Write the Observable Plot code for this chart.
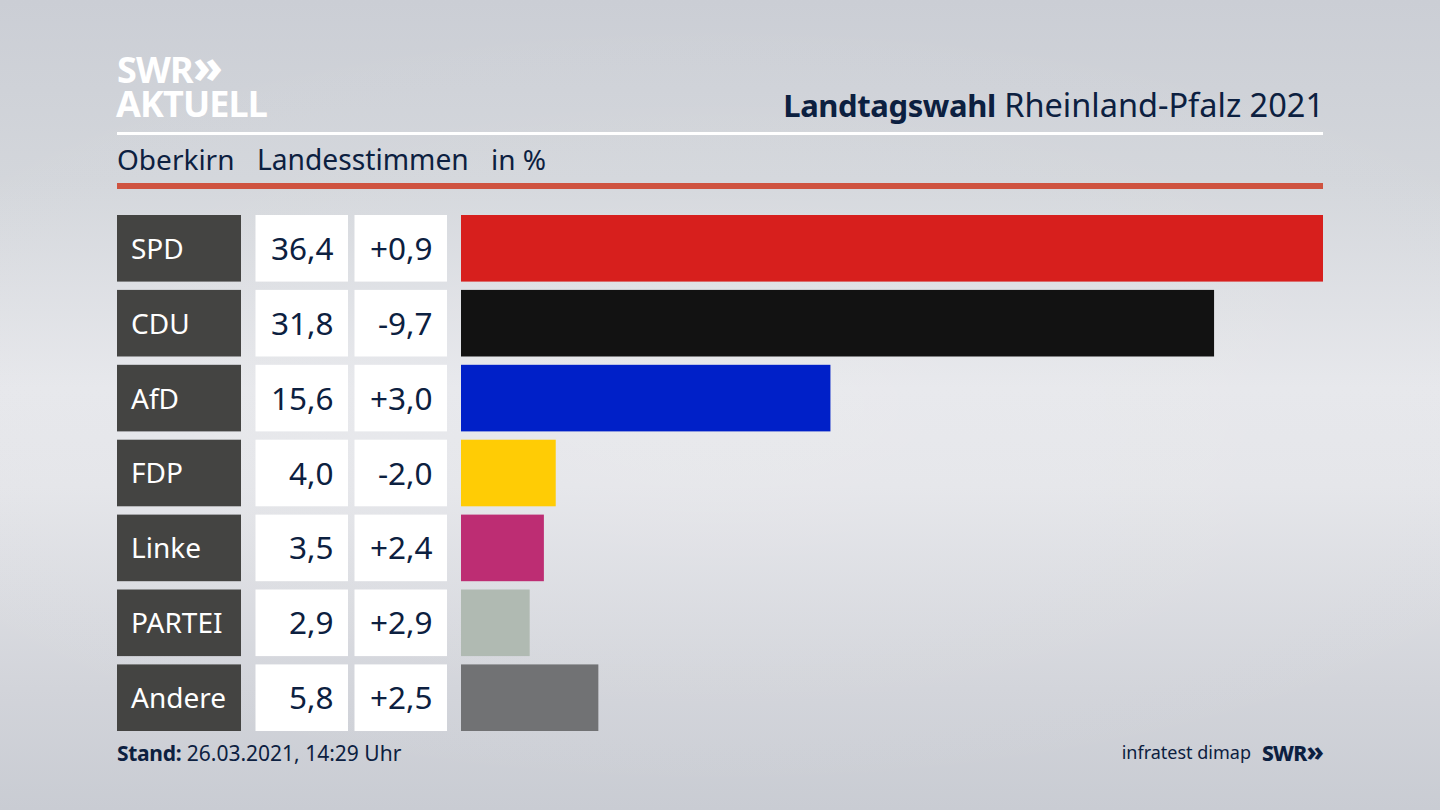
<!DOCTYPE html>
<html lang="de">
<head>
<meta charset="utf-8">
<script src="https://cdn.jsdelivr.net/npm/d3@7"></script>
<script src="https://cdn.jsdelivr.net/npm/@observablehq/plot@0.6"></script>
<style>
html,body{margin:0;padding:0;width:1440px;height:810px;overflow:hidden}
body{position:relative;font-family:"Noto Sans",sans-serif;color:#0c2040;
background:radial-gradient(ellipse 70% 50% at 50% 50%,rgba(255,255,255,.12),rgba(255,255,255,0)),linear-gradient(180deg,#cbced5 0%,#d3d6db 22%,#e6e7eb 48%,#e4e5e9 60%,#d2d4da 85%,#c9ccd3 100%)}
.t{position:absolute;white-space:nowrap;line-height:1}
.r{position:absolute;left:117px;width:1206px}
#chart{position:absolute;left:0;top:0}
#chart svg{display:block;background:transparent}
</style>
</head>
<body>
<div id="chart"></div>
<div class="t" style="left:117px;top:50px;height:30px;line-height:30px;font-size:36px;font-weight:700;color:#fff;letter-spacing:-.8px">SWR<span style="font-size:46px;line-height:30px;letter-spacing:-2px;font-weight:800">»</span></div>
<div class="t" style="left:116px;top:89px;height:30px;line-height:30px;font-size:36px;font-weight:700;color:#fff;letter-spacing:-.9px">AKTUELL</div>
<div class="t" style="right:116px;top:89px;font-size:32.5px"><b style="font-size:31px;font-weight:700;letter-spacing:-.4px">Landtagswahl</b> Rheinland-Pfalz 2021</div>
<div class="r" style="top:132px;height:3px;background:#fff"></div>
<div class="t" style="left:117px;top:145px;font-size:28px">Oberkirn</div>
<div class="t" style="left:257px;top:145px;font-size:28.2px">Landesstimmen</div>
<div class="t" style="left:491px;top:145px;font-size:28px">in %</div>
<div class="r" style="top:183px;height:6px;background:#cf5340"></div>
<div class="t" style="left:117px;top:743px;font-size:21px"><b style="font-weight:700;letter-spacing:-.3px">Stand:</b> 26.03.2021, 14:29 Uhr</div>
<div class="t" style="right:189px;top:743px;font-size:18px">infratest dimap</div>
<div class="t" style="right:117px;top:740px;font-size:21px;font-weight:800;letter-spacing:-.7px">SWR<span style="font-size:27px;line-height:21px;letter-spacing:-1px">»</span></div>
<script>
const parties = ["SPD","CDU","AfD","FDP","Linke","PARTEI","Andere"];
const shares = [36.4,31.8,15.6,4.0,3.5,2.9,5.8];
const changes = ["+0,9","-9,7","+3,0","-2,0","+2,4","+2,9","+2,5"];
const colors = ["#d71f1d","#121212","#0020c8","#ffcc05","#bd2d73","#b0bab2","#717274"];

const rows = parties.map((party,i)=>({party,share:shares[i],change:changes[i],
  label:shares[i].toFixed(1).replace(".",",")}));

const font = {fontFamily:'"Noto Sans",sans-serif',fontSize:31.5,dy:1};
const chart = Plot.plot({
  width:1440,height:810,margin:0,
  style:{background:"transparent",overflow:"visible"},
  x:{domain:[0,36.4],range:[461,1323],axis:null},
  y:{domain:parties,range:[215,731],paddingInner:0.111,paddingOuter:0,align:0,round:false,axis:null},
  color:{domain:parties,range:colors},
  marks:[
    Plot.barX(rows,{x1:0,x2:0,y:"party",fill:"#444442",insetLeft:-344,insetRight:220}),
    Plot.barX(rows,{x1:0,x2:0,y:"party",fill:"#fff",insetLeft:-205.5,insetRight:113}),
    Plot.barX(rows,{x1:0,x2:0,y:"party",fill:"#fff",insetLeft:-106.5,insetRight:14}),
    Plot.barX(rows,{x:"share",y:"party",fill:"party"}),
    Plot.text(rows,{x:0,y:"party",text:"party",dx:-330.5,textAnchor:"start",fill:"#fff",...font,fontSize:28}),
    Plot.text(rows,{x:0,y:"party",text:"label",dx:-128,textAnchor:"end",fill:"#0c2040",...font}),
    Plot.text(rows,{x:0,y:"party",text:"change",dx:-29,textAnchor:"end",fill:"#0c2040",...font})
  ]
});
document.getElementById("chart").appendChild(chart);
</script>
</body>
</html>
